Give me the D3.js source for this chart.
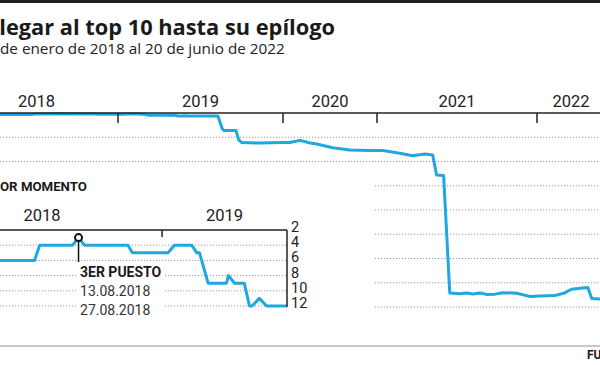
<!DOCTYPE html>
<html><head><meta charset="utf-8">
<script src="https://cdn.jsdelivr.net/npm/d3@7"></script>
<style>
body{margin:0;background:#fff}
svg{display:block;font-family:Roboto,"Liberation Sans",sans-serif}
</style></head><body>
<svg id="c" width="600" height="365"></svg>
<script>
// ---- data ----
const title = "llegar al top 10 hasta su epílogo";
const subtitle = "de enero de 2018 al 20 de junio de 2022";
const yearLabels = ["2018","2019","2020","2021","2022"];
const yearBounds = ["2018-01-01","2019-01-01","2020-01-01","2021-01-01","2022-01-01","2022-06-20"];
const mainGridRanks = [100,200,300,400,500,600,700,800];
const mainDates = ["2018-01-01","2018-03-19","2018-06-21","2018-06-29","2018-08-18","2018-08-27","2018-09-05","2018-11-10","2018-11-17","2019-01-10","2019-01-20","2019-02-15","2019-02-23","2019-02-27","2019-03-12","2019-04-09","2019-04-12","2019-04-21","2019-05-06","2019-05-14","2019-05-18","2019-05-29","2019-06-09","2019-08-10","2019-08-19","2019-08-23","2019-09-19","2019-09-25","2019-10-02","2019-11-11","2020-01-01","2020-01-28","2020-03-07","2020-04-15","2020-05-11","2020-07-13","2020-09-17","2020-12-05","2021-01-14","2021-02-22","2021-03-23","2021-04-20","2021-05-08","2021-05-17","2021-06-02","2021-06-16","2021-07-09","2021-07-24","2021-08-08","2021-08-24","2021-09-08","2021-09-27","2021-10-15","2021-11-16","2021-12-01","2021-12-16","2022-01-08","2022-02-14","2022-03-11","2022-03-28","2022-05-01","2022-05-08","2022-05-18","2022-06-20"];
const mainRanks = [12,6,6,4,4,3,4,4,5,5,4,4,5,5,9,9,8,9,9,12,12,11,12,12,62,72,72,111,122,124,122,122,113,124,128,143,153,155,155,166,176,169,173,256,258,742,745,742,746,742,748,747,741,743,750,757,755,753,742,727,721,720,765,768];

const bestTitle = "MEJOR MOMENTO";
const bestYears = ["2018","2019"];
const bestBounds = ["2018-01-01","2019-01-01","2019-07-10"];
const bestTicks = [2,4,6,8,10,12];
const bestDates = ["2018-03-19","2018-06-21","2018-06-29","2018-08-18","2018-08-27","2018-09-05","2018-11-10","2018-11-17","2019-01-10","2019-01-20","2019-02-15","2019-02-23","2019-02-27","2019-03-12","2019-04-09","2019-04-12","2019-04-21","2019-05-06","2019-05-14","2019-05-18","2019-05-29","2019-06-09","2019-07-10"];
const bestRanks = [6,6,4,4,3,4,4,5,5,4,4,5,5,9,9,8,9,9,12,12,11,12,12];
const noteDate = "2018-08-27", noteRank = 3;
const noteLines = ["3ER PUESTO","13.08.2018","27.08.2018"];
const source = "FUENTE";

// ---- drawing ----
const parse = d3.timeParse("%Y-%m-%d");
const svg = d3.select("#c");
const BLUE = "#1fa7e0";

const x = d3.scaleTime().domain(yearBounds.map(parse)).range([-45,118,283,377,537,605]);
const y = d3.scaleLinear().domain([0,800]).range([113,307]);

// fit a text so that chars [from..] span `target` px
function fitSize(t, from, target){
  const n = t.node(); const fs = +t.attr("font-size");
  const w = n.getSubStringLength(from, n.getNumberOfChars()-from);
  t.attr("font-size", fs*target/w);
  return n;
}

svg.append("rect").attr("x",0).attr("y",0).attr("width",600).attr("height",3).attr("fill","#222");
const tt = svg.append("text").attr("x",335).attr("y",35).attr("text-anchor","end")
  .attr("font-family","'Open Sans',sans-serif")
  .attr("font-size",21).attr("font-weight",700).attr("fill","#1a1a1a").text(title);
fitSize(tt,1,336);
const st = svg.append("text").attr("x",0).attr("y",54).attr("font-size",15)
  .attr("font-family","'Open Sans',sans-serif").attr("fill","#222").text(subtitle);
fitSize(st,0,285);

// main grid
svg.append("g").selectAll("line").data(mainGridRanks).join("line")
  .attr("x1",0).attr("x2",600).attr("y1",d=>y(d)).attr("y2",d=>y(d))
  .attr("stroke","#9a9a9a").attr("stroke-width",1).attr("stroke-dasharray","1.2,1.8");

const mainData = mainDates.map((d,i)=>({d:parse(d),r:mainRanks[i]}));
svg.append("path").datum(mainData)
  .attr("d",d3.line().x(p=>x(p.d)).y(p=>y(p.r)))
  .attr("fill","none").attr("stroke",BLUE).attr("stroke-width",3).attr("stroke-linejoin","round");

// axis
svg.append("line").attr("x1",0).attr("x2",600).attr("y1",y(0)).attr("y2",y(0))
  .attr("stroke","#222").attr("stroke-width",1.5);
svg.append("g").selectAll("line").data(yearBounds.slice(1,5)).join("line")
  .attr("x1",d=>x(parse(d))).attr("x2",d=>x(parse(d))).attr("y1",y(0)).attr("y2",y(0)+10)
  .attr("stroke","#222").attr("stroke-width",1.5);
svg.append("g").selectAll("text").data(yearLabels).join("text")
  .attr("x",(d,i)=>(x(parse(yearBounds[i]))+x(parse(yearBounds[i+1])))/2)
  .attr("y",107).attr("text-anchor","middle").attr("font-size",16.5).attr("fill","#222").text(d=>d);

// ---- inset ----
const xi = d3.scaleTime().domain([parse(bestBounds[0]),parse(bestBounds[2])]).range([-78,287]);
const yi = d3.scaleLinear().domain([2,12]).range([230,306]);
const g = svg.append("g");
g.append("rect").attr("x",-5).attr("y",170).attr("width",379).attr("height",152).attr("fill","#fff");
const bt = g.append("text").attr("x",0).attr("y",191)
  .attr("font-size",12.5).attr("font-weight",700).attr("fill","#1a1a1a").text(bestTitle);
const btn = fitSize(bt,3,87);
bt.attr("x",-btn.getSubStringLength(0,3));
g.selectAll(".by").data(bestYears).join("text").attr("class","by")
  .attr("x",(d,i)=>(xi(parse(bestBounds[i]))+xi(parse(bestBounds[i+1])))/2)
  .attr("y",221).attr("text-anchor","middle").attr("font-size",16.5).attr("fill","#222").text(d=>d);
g.selectAll(".bg").data(bestTicks.slice(1)).join("line").attr("class","bg")
  .attr("x1",0).attr("x2",xi.range()[1]).attr("y1",d=>yi(d)).attr("y2",d=>yi(d))
  .attr("stroke","#9a9a9a").attr("stroke-width",1).attr("stroke-dasharray","1.2,1.8");

// annotation background
const noteX = xi(parse(noteDate));
const note = g.append("g");
const nbg = note.append("rect").attr("fill","#fff");
note.selectAll("text").data(noteLines).join("text")
  .attr("x",noteX+1.5).attr("y",(d,i)=>277+i*19).attr("font-size",14)
  .attr("font-weight",(d,i)=>i===0?700:400).attr("fill",(d,i)=>i===0?"#1a1a1a":"#333").text(d=>d);
const bb = note.node().getBBox();
nbg.attr("x",bb.x-4).attr("y",bb.y-2).attr("width",bb.width+7).attr("height",bb.height+4);

const bestData = bestDates.map((d,i)=>({d:parse(d),r:bestRanks[i]}));
g.append("path").datum(bestData)
  .attr("d",d3.line().x(p=>xi(p.d)).y(p=>yi(p.r)))
  .attr("fill","none").attr("stroke",BLUE).attr("stroke-width",3).attr("stroke-linejoin","round");

// box
g.append("line").attr("x1",0).attr("x2",xi.range()[1]).attr("y1",yi(2)).attr("y2",yi(2))
  .attr("stroke","#222").attr("stroke-width",1.5);
g.append("line").attr("x1",xi.range()[1]).attr("x2",xi.range()[1]).attr("y1",yi(2)).attr("y2",yi(12)+1)
  .attr("stroke","#222").attr("stroke-width",1.5);
g.append("line").attr("x1",xi(parse(bestBounds[1]))).attr("x2",xi(parse(bestBounds[1])))
  .attr("y1",yi(2)).attr("y2",yi(2)+7).attr("stroke","#222").attr("stroke-width",1.5);
g.selectAll(".bt").data(bestTicks).join("text").attr("class","bt")
  .attr("x",xi.range()[1]+4).attr("y",d=>yi(d)+2).attr("font-size",14.5).attr("fill","#222").text(d=>d);

// marker
g.append("line").attr("x1",noteX).attr("x2",noteX).attr("y1",yi(noteRank)+3).attr("y2",262)
  .attr("stroke","#111").attr("stroke-width",1.5);
g.append("circle").attr("cx",noteX).attr("cy",yi(noteRank)).attr("r",3.5)
  .attr("fill","#fff").attr("stroke","#111").attr("stroke-width",2);

// bottom
svg.append("line").attr("x1",0).attr("x2",600).attr("y1",346).attr("y2",346)
  .attr("stroke","#c8c8c8").attr("stroke-width",2);
svg.append("text").attr("x",587).attr("y",359).attr("font-size",12).attr("font-weight",700)
  .attr("fill","#1a1a1a").text(source);
</script>
</body></html>
